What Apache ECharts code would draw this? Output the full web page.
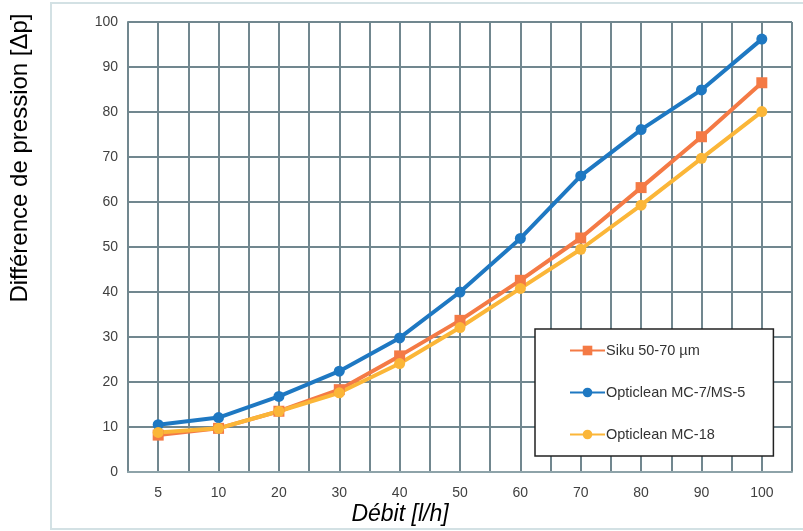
<!DOCTYPE html>
<html>
<head>
<meta charset="utf-8">
<script src="https://cdn.jsdelivr.net/npm/echarts@6/dist/echarts.min.js"></script>
<style>
html, body { margin: 0; padding: 0; background: #fff; }
#chart { width: 803px; height: 531px; }
</style>
</head>
<body>
<div id="chart"></div>
<script>
// débit en l/h
var debit = ['5', '10', '20', '30', '40', '50', '60', '70', '80', '90', '100'];
// différence de pression
var siku = [8.2, 9.7, 13.5, 18.3, 25.8, 33.7, 42.6, 52.0, 63.2, 74.5, 86.5];
var mc7 = [10.5, 12.1, 16.8, 22.4, 29.8, 40.0, 51.9, 65.8, 76.1, 84.9, 96.2];
var mc18 = [8.8, 9.7, 13.5, 17.6, 24.1, 32.1, 40.8, 49.5, 59.3, 69.7, 80.1];
var yTicks = [0, 100, 10];

var gridColor = '#71878f';

var chart = echarts.init(document.getElementById('chart'));

function makeSerie(name, data, color, symbol) {
	return {
		name: name,
		type: 'line',
		data: data,
		symbol: symbol,
		symbolSize: 11,
		lineStyle: { color: color, width: 4 },
		itemStyle: { color: color },
		z: 5
	};
}

var option = {
	animation: false,
	textStyle: { fontFamily: 'Liberation Sans, Arial, sans-serif' },
	grid: { left: 128, right: 11, top: 22, bottom: 59 },
	graphic: [{
		type: 'rect',
		shape: { x: 51, y: 3, width: 770, height: 526 },
		style: { fill: 'none', stroke: '#d3e1e4', lineWidth: 2 },
		z: -1
	}, {
		// titre axe vertical (décalé vers le haut comme l'original)
		type: 'text',
		x: 20,
		y: 158,
		rotation: Math.PI / 2,
		style: {
			text: 'Différence de pression [Δp]',
			font: '24px Liberation Sans, Arial, sans-serif',
			fill: '#000',
			textAlign: 'center',
			textVerticalAlign: 'middle'
		}
	}, {
		type: 'text',
		x: 400,
		y: 515,
		style: {
			text: 'Débit [l/h]',
			font: 'italic 23px Liberation Sans, Arial, sans-serif',
			fill: '#000',
			textAlign: 'center',
			textVerticalAlign: 'middle'
		}
	}],
	legend: {
		orient: 'vertical',
		left: 535,
		top: 329,
		padding: [14, 28, 14, 34],
		itemGap: 27,
		itemWidth: 35,
		itemHeight: 12,
		backgroundColor: '#fff',
		borderColor: '#222',
		borderWidth: 1.5,
		borderRadius: 0,
		textStyle: { fontSize: 14.5, color: '#333', padding: [0, 0, 0, -4] },
		data: ['Siku 50-70 µm', 'Opticlean MC-7/MS-5', 'Opticlean MC-18']
	},
	xAxis: [{
		type: 'category',
		data: debit,
		boundaryGap: true,
		axisLine: { show: true, lineStyle: { color: '#8ea3a9', width: 2 } },
		axisTick: { show: false },
		axisLabel: { fontSize: 14, color: '#404040', margin: 14 },
		splitLine: { show: false }
	}, {
		// lignes verticales de la grille (bords et centres des catégories)
		type: 'value',
		min: 0,
		max: debit.length * 2,
		interval: 1,
		position: 'bottom',
		axisLine: { show: false },
		axisTick: { show: false },
		axisLabel: { show: false },
		splitLine: { show: true, lineStyle: { color: gridColor, width: 2 } }
	}],
	yAxis: {
		type: 'value',
		min: yTicks[0],
		max: yTicks[1],
		interval: yTicks[2],
		axisLine: { show: true, lineStyle: { color: gridColor, width: 2 } },
		axisTick: { show: false },
		axisLabel: { fontSize: 14, color: '#404040', margin: 10 },
		splitLine: { show: true, lineStyle: { color: gridColor, width: 2 } }
	},
	series: [
		makeSerie('Siku 50-70 µm', siku, '#f47a45', 'rect'),
		makeSerie('Opticlean MC-7/MS-5', mc7, '#1e78c2', 'circle'),
		makeSerie('Opticlean MC-18', mc18, '#fbb638', 'circle')
	]
};

chart.setOption(option);
</script>
</body>
</html>
